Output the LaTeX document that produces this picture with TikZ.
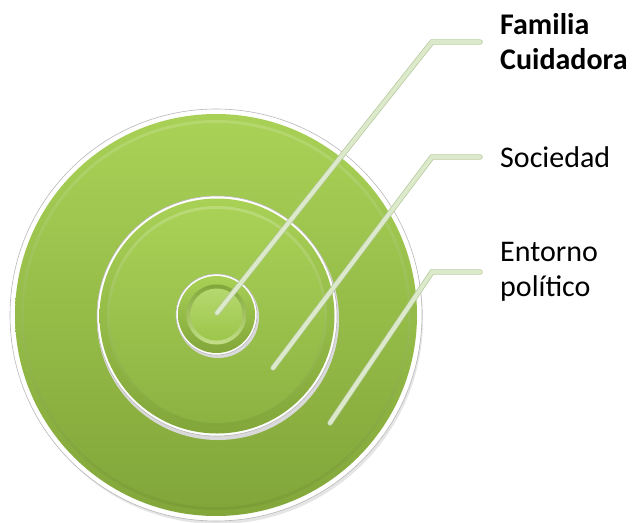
\documentclass[tikz,border=0pt]{standalone}
\usepackage{fontspec}
\setmainfont{Carlito}
\definecolor{gtop}{HTML}{A9D156}
\definecolor{gbot}{HTML}{82A63A}
\definecolor{gin}{HTML}{9CC64A}
\definecolor{linefill}{HTML}{DCE9CA}
\definecolor{lineedge}{HTML}{B4C89A}
\definecolor{rimgray}{HTML}{B8B8B8}
\begin{document}
\begin{tikzpicture}[x=1pt,y=-1pt,
  disk/.style={circle, inner sep=0pt, draw=rimgray, line width=0.6pt, fill=white},
  conn/.style={draw=lineedge, line width=0.7pt, double=linefill, double distance=4pt, line cap=round},
  lbl/.style={anchor=west, inner xsep=20pt, inner ysep=0pt, align=left, font=\fontsize{30}{35}\selectfont, text=black}]
\useasboundingbox (0,0) rectangle (639,522);
% big circle
\fill[black!10] (218,319) circle (205);
\node[disk, minimum size=412pt] (big) at (216,315) {};
\shade[top color=gtop, bottom color=gbot] (big.center) circle (201);
\shade[top color=gtop!85!white, bottom color=gbot!95!black] (big.center) circle (195);
\shade[top color=gtop, bottom color=gbot] (big.center) circle (192);
% middle circle
\fill[black!15] (218,319) circle (121);
\node[disk, minimum size=240pt] (mid) at (217,316) {};
\shade[top color=gtop, bottom color=gbot] (mid.center) circle (117.5);
\shade[top color=gtop!80!white, bottom color=gbot] (mid.center) circle (110);
\shade[top color=gtop, bottom color=gin!90!black] (mid.center) circle (107);
% small circle
\fill[black!15] (218,317) circle (41);
\node[disk, minimum size=81pt] (small) at (216.5,314.5) {};
\shade[top color=gtop, bottom color=gbot] (small.center) circle (38.5);
\shade[top color=gbot, bottom color=gtop!70!white] (small.center) circle (30);
\shade[top color=gtop!85!white, bottom color=gin] (small.center) circle (26);
% connector ends and elbows
\coordinate (e1) at (217,313);
\coordinate (e2) at (273,368);
\coordinate (e3) at (330,423);
\coordinate (k1) at (432,42);
\coordinate (k2) at (432,157);
\coordinate (k3) at (432,272);
% labels
\node[lbl] (l1) at (480,42) {\textbf{Familia}\\\textbf{Cuidadora}};
\node[lbl] (l2) at (480,157) {Sociedad};
\node[lbl] (l3) at (480,272) {Entorno\\político};
% connectors
\draw[conn] (e1) -- (k1) -- (l1.west);
\draw[conn] (e2) -- (k2) -- (l2.west);
\draw[conn] (e3) -- (k3) -- (l3.west);
\end{tikzpicture}
\end{document}
